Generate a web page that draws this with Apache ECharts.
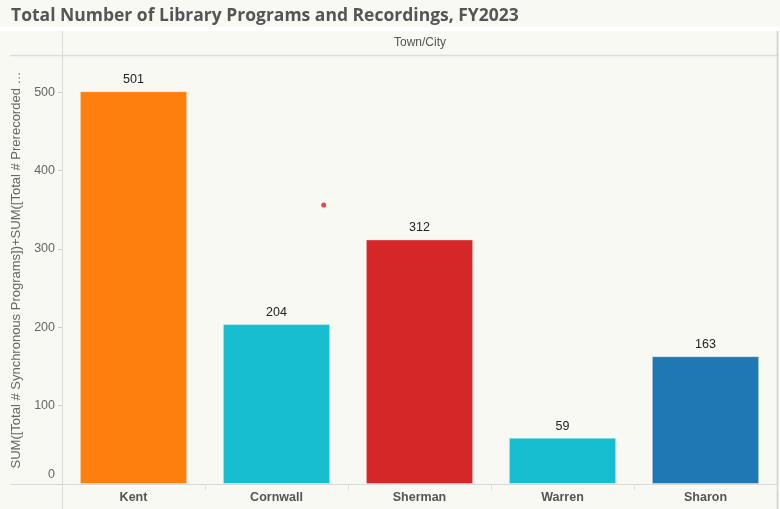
<!DOCTYPE html>
<html>
<head>
<meta charset="utf-8">
<script src="https://cdn.jsdelivr.net/npm/echarts@6/dist/echarts.min.js"></script>
<style>
html, body { margin: 0; padding: 0; background: #f7f9f2; }
#main { width: 780px; height: 509px; }
</style>
</head>
<body>
<div id="main"></div>
<script>
var towns = ['Kent', 'Cornwall', 'Sherman', 'Warren', 'Sharon']
var totals = [501, 204, 312, 59, 163]
var barColors = ['#ff7f0e', '#17becf', '#d62728', '#17becf', '#1f77b4']
var yTicks = [0, 100, 200, 300, 400, 500]
// stray red mark in the view (x in category units, y in axis units)
var strayPoint = [[1.83, 356]]

var myChart = echarts.init(document.getElementById('main'));

var barData = []
for (var i = 0; i < towns.length; i++)
{
    barData.push({
        value: totals[i],
        itemStyle: {color: barColors[i]}
    })
}

var font = 'Liberation Sans'

var option = {
    backgroundColor: '#f7f9f2',
    animation: false,
    title: {
        text: 'Total Number of Library Programs and Recordings, FY2023',
        left: 6,
        top: 2,
        textStyle: {
            fontFamily: 'Open Sans',
            fontSize: 17.5,
            fontWeight: 'bold',
            color: '#555'
        }
    },
    grid: {
        left: 62,
        right: 3,
        top: 56,
        bottom: 25
    },
    graphic: [
        {type: 'rect', shape: {x: 0, y: 27, width: 780, height: 4}, style: {fill: '#ffffff'}, silent: true},
        {type: 'line', shape: {x1: 10, y1: 55.5, x2: 777, y2: 55.5}, style: {stroke: '#dcdcdc', lineWidth: 1.5}, silent: true},
        {type: 'line', shape: {x1: 62.5, y1: 31, x2: 62.5, y2: 509}, style: {stroke: '#d8d8d8', lineWidth: 1}, silent: true},
        {type: 'line', shape: {x1: 10, y1: 484.5, x2: 777, y2: 484.5}, style: {stroke: '#d8d8d8', lineWidth: 1}, silent: true},
        {type: 'line', shape: {x1: 777.5, y1: 31, x2: 777.5, y2: 509}, style: {stroke: '#d0d0d0', lineWidth: 1.5}, silent: true},
        {type: 'text', x: 420, y: 37, style: {text: 'Town/City', fill: '#555', font: '12px "Liberation Sans"', textAlign: 'center'}, silent: true}
    ],
    xAxis: [
        {
            type: 'category',
            data: towns,
            axisLine: {show: false},
            axisTick: {
                show: true,
                alignWithLabel: false,
                length: 6,
                lineStyle: {color: '#dddddd'}
            },
            axisLabel: {
                margin: 7,
                fontFamily: font,
                fontSize: 12.5,
                fontWeight: 'bold',
                color: '#555'
            }
        },
        {
            type: 'value',
            show: false,
            min: 0,
            max: 5
        }
    ],
    yAxis: {
        type: 'value',
        min: 0,
        max: 546,
        name: 'SUM([Total # Synchronous Programs])+SUM([Total # Prerecorded \u2026',
        nameLocation: 'middle',
        nameRotate: 90,
        nameGap: 34,
        nameTextStyle: {
            fontFamily: font,
            fontSize: 13,
            color: '#666'
        },
        axisLine: {show: false},
        axisTick: {
            show: true,
            length: 4,
            customValues: yTicks,
            lineStyle: {color: '#cccccc'}
        },
        splitLine: {show: false},
        axisLabel: {
            margin: 7,
            customValues: yTicks,
            fontFamily: font,
            fontSize: 12.5,
            color: '#666',
            formatter: function (v) {
                return v === 0 ? '{z|0}' : String(v)
            },
            rich: {
                z: {fontFamily: font, fontSize: 12.5, color: '#666', padding: [0, 0, 18, 0]}
            }
        }
    },
    series: [
        {
            name: 'Total',
            type: 'bar',
            barWidth: '75%',
            data: barData,
            itemStyle: {
                borderColor: 'rgba(255,255,255,0.35)',
                borderWidth: 1
            },
            label: {
                show: true,
                position: 'top',
                distance: 5,
                fontFamily: font,
                fontSize: 12.5,
                color: '#222'
            }
        },
        {
            name: 'mark',
            type: 'scatter',
            xAxisIndex: 1,
            symbolSize: 5,
            itemStyle: {color: '#e31a1c'},
            data: strayPoint
        }
    ]
};

myChart.setOption(option);
</script>
</body>
</html>
